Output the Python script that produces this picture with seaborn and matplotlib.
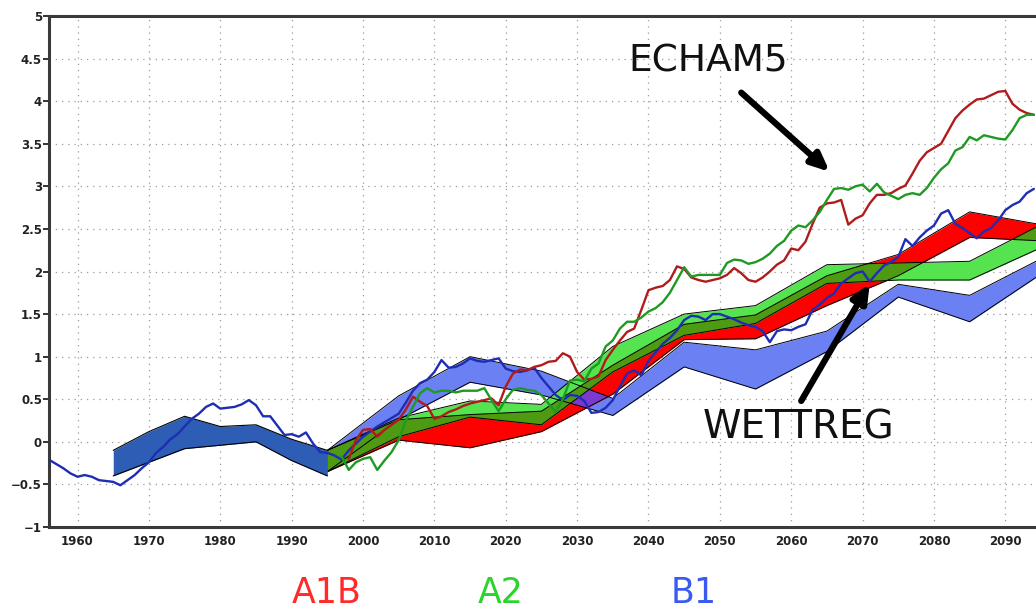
import numpy as np
import pandas as pd
import matplotlib
matplotlib.use("Agg")
import matplotlib.pyplot as plt
from matplotlib.ticker import FuncFormatter
import seaborn as sns

# ---------------------------------------------------------------- data
# Observed-period band (1965-1995)
obs_years = [1965, 1970, 1975, 1980, 1985, 1990, 1995]
obs_upper = [-0.10, 0.12, 0.30, 0.18, 0.20, 0.03, -0.10]
obs_lower = [-0.40, -0.24, -0.08, -0.04, 0.00, -0.22, -0.40]

# Scenario bands (WETTREG), decadal vertices
band_years = [1995, 2005, 2015, 2025, 2035, 2045, 2055, 2065, 2075, 2085, 2095]
a1b_upper = [-0.10, 0.26, 0.32, 0.36, 0.90, 1.38, 1.49, 1.95, 2.20, 2.70, 2.55]
a1b_lower = [-0.35, 0.02, -0.07, 0.12, 0.56, 1.20, 1.21, 1.60, 1.95, 2.40, 2.36]
a2_upper = [-0.10, 0.28, 0.48, 0.44, 1.12, 1.50, 1.60, 2.08, 2.10, 2.12, 2.55]
a2_lower = [-0.35, 0.06, 0.29, 0.20, 0.82, 1.25, 1.39, 1.86, 1.90, 1.90, 2.28]
b1_upper = [-0.10, 0.54, 1.00, 0.83, 0.51, 1.17, 1.08, 1.30, 1.85, 1.72, 2.15]
b1_lower = [-0.35, 0.26, 0.70, 0.55, 0.31, 0.88, 0.62, 1.06, 1.70, 1.41, 1.97]

# ECHAM5 runs, annual values
b1_run_years = list(range(1956, 2095))
b1_run = [-0.21, -0.26, -0.31, -0.37, -0.41, -0.39, -0.41, -0.45, -0.46, -0.47,
          -0.51, -0.45, -0.39, -0.31, -0.24, -0.13, -0.06, 0.03, 0.09, 0.18,
          0.27, 0.33, 0.41, 0.45, 0.39, 0.40, 0.41, 0.44, 0.49, 0.43,
          0.30, 0.30, 0.19, 0.08, 0.09, 0.06, 0.11, -0.02, -0.12, -0.13,
          -0.16, -0.21, -0.10, -0.02, 0.06, 0.12, 0.18, 0.23, 0.28, 0.33,
          0.46, 0.60, 0.69, 0.73, 0.82, 0.96, 0.87, 0.88, 0.92, 0.98,
          0.95, 0.94, 0.96, 0.98, 0.86, 0.83, 0.82, 0.84, 0.87, 0.75,
          0.65, 0.55, 0.49, 0.55, 0.54, 0.48, 0.34, 0.35, 0.40, 0.49,
          0.65, 0.80, 0.84, 0.78, 0.95, 1.05, 1.15, 1.22, 1.31, 1.43,
          1.48, 1.47, 1.43, 1.50, 1.50, 1.47, 1.44, 1.40, 1.37, 1.35,
          1.30, 1.17, 1.30, 1.32, 1.31, 1.35, 1.38, 1.55, 1.61, 1.69,
          1.74, 1.86, 1.92, 1.98, 2.00, 1.88, 1.98, 2.07, 2.11, 2.17,
          2.38, 2.30, 2.40, 2.48, 2.54, 2.68, 2.72, 2.56, 2.51, 2.45,
          2.39, 2.47, 2.51, 2.60, 2.72, 2.78, 2.82, 2.92, 2.97]

a1b_run_years = list(range(1998, 2095))
a1b_run = [-0.20, 0.02, 0.14, 0.15, 0.06, 0.14, 0.20, 0.26, 0.38, 0.53,
           0.47, 0.42, 0.27, 0.30, 0.35, 0.38, 0.42, 0.45, 0.47, 0.49,
           0.51, 0.43, 0.65, 0.80, 0.85, 0.84, 0.88, 0.90, 0.94, 0.95,
           1.04, 1.00, 0.82, 0.73, 0.74, 0.77, 0.96, 1.08, 1.19, 1.29,
           1.33, 1.55, 1.78, 1.81, 1.83, 1.90, 2.06, 2.03, 1.93, 1.90,
           1.88, 1.90, 1.92, 1.96, 2.04, 1.98, 1.90, 1.88, 1.93, 2.00,
           2.08, 2.13, 2.27, 2.25, 2.35, 2.56, 2.75, 2.80, 2.81, 2.84,
           2.55, 2.62, 2.66, 2.80, 2.90, 2.90, 2.92, 2.97, 3.01, 3.15,
           3.30, 3.40, 3.45, 3.50, 3.65, 3.80, 3.89, 3.96, 4.02, 4.03,
           4.07, 4.11, 4.12, 3.97, 3.90, 3.86, 3.84]

a2_run_years = list(range(1997, 2095))
a2_run = [-0.17, -0.33, -0.24, -0.20, -0.18, -0.33, -0.22, -0.12, 0.02, 0.25,
          0.41, 0.57, 0.63, 0.58, 0.60, 0.60, 0.58, 0.60, 0.60, 0.60,
          0.63, 0.49, 0.36, 0.50, 0.61, 0.63, 0.61, 0.60, 0.55, 0.45,
          0.35, 0.50, 0.72, 0.73, 0.71, 0.86, 0.92, 1.12, 1.19, 1.33,
          1.41, 1.41, 1.46, 1.53, 1.57, 1.64, 1.75, 1.90, 2.05, 1.94,
          1.96, 1.96, 1.96, 1.96, 2.10, 2.14, 2.13, 2.09, 2.11, 2.15,
          2.21, 2.30, 2.36, 2.48, 2.54, 2.52, 2.60, 2.70, 2.84, 2.97,
          2.98, 2.96, 3.00, 3.02, 2.94, 3.03, 2.93, 2.89, 2.85, 2.90,
          2.92, 2.90, 2.98, 3.10, 3.20, 3.27, 3.42, 3.46, 3.58, 3.54,
          3.60, 3.58, 3.56, 3.55, 3.66, 3.80, 3.84, 3.84]

x_ticks = list(range(1960, 2091, 10))
y_ticks = [-1, -0.5, 0, 0.5, 1, 1.5, 2, 2.5, 3, 3.5, 4, 4.5, 5]
scenario_labels = ["A1B", "A2", "B1"]

# ---------------------------------------------------------------- style
sns.set_theme(style="white")
plt.rcParams["font.family"] = ["DejaVu Sans"]

C_OBS = "#2d5db4"
C_A1B = "#ff0000"
C_A2 = "#55e34f"
C_B1 = "#6b80f2"
C_A1B_A2 = "#4e9a12"
C_A1B_B1 = "#7a3ad0"
LINE_COLORS = {"A1B": "#b01c1c", "A2": "#1e9a22", "B1": "#1f2db5"}
LABEL_COLORS = {"A1B": "#ff2a2a", "A2": "#2bd42b", "B1": "#3a5af0"}

fig = plt.figure(figsize=(10.36, 6.12), dpi=100)
ax = fig.add_axes([49 / 1036, 1 - 527 / 612, 1 - 49 / 1036, (527 - 16) / 612])

# ---------------------------------------------------------------- bands
bands = {
    "B1": (b1_lower, b1_upper, C_B1),
    "A1B": (a1b_lower, a1b_upper, C_A1B),
    "A2": (a2_lower, a2_upper, C_A2),
}
for name, (lo, hi, col) in bands.items():
    ax.fill_between(band_years, lo, hi, color=col, lw=0, zorder=2)

# overlap areas of two scenario bands
xs = np.linspace(band_years[0], band_years[-1], 2001)


def overlap(b1, b2, col):
    lo = np.maximum(np.interp(xs, band_years, b1[0]), np.interp(xs, band_years, b2[0]))
    hi = np.minimum(np.interp(xs, band_years, b1[1]), np.interp(xs, band_years, b2[1]))
    ax.fill_between(xs, lo, hi, where=hi > lo, color=col, lw=0, zorder=3)


overlap(bands["A1B"], bands["B1"], C_A1B_B1)
overlap(bands["A1B"], bands["A2"], C_A1B_A2)

for name, (lo, hi, col) in bands.items():
    ax.plot(band_years, lo, color="black", lw=0.7, zorder=4)
    ax.plot(band_years, hi, color="black", lw=0.7, zorder=4)

ax.fill_between(obs_years, obs_lower, obs_upper, color=C_OBS, lw=0, zorder=4)
ax.plot(obs_years, obs_lower, color="black", lw=0.8, zorder=4)
ax.plot(obs_years, obs_upper, color="black", lw=0.8, zorder=4)

# ---------------------------------------------------------------- runs
runs = pd.concat([
    pd.DataFrame({"year": b1_run_years, "anomaly": b1_run, "run": "B1"}),
    pd.DataFrame({"year": a1b_run_years, "anomaly": a1b_run, "run": "A1B"}),
    pd.DataFrame({"year": a2_run_years, "anomaly": a2_run, "run": "A2"}),
], ignore_index=True)
sns.lineplot(data=runs, x="year", y="anomaly", hue="run", palette=LINE_COLORS,
             estimator=None, sort=False, legend=False, lw=1.7, ax=ax, zorder=5)

# ---------------------------------------------------------------- annotations
ax.text(2048.3, 4.46, "ECHAM5", fontsize=27, ha="center", va="center",
        color="#111111", zorder=7)
ax.annotate("", xy=(2065.4, 3.17), xytext=(2053.0, 4.10), zorder=7,
            arrowprops=dict(arrowstyle="-|>,head_length=0.9,head_width=0.4",
                            lw=4.5, color="black", shrinkA=0, shrinkB=0))
ax.text(2061.0, 0.17, "WETTREG", fontsize=28, ha="center", va="center",
        color="#111111", zorder=7)
ax.annotate("", xy=(2071.0, 1.86), xytext=(2061.4, 0.48), zorder=7,
            arrowprops=dict(arrowstyle="-|>,head_length=0.9,head_width=0.4",
                            lw=4.5, color="black", shrinkA=0, shrinkB=0))

for label, xc in zip(scenario_labels, [327, 501, 694]):
    fig.text(xc / 1036, 1 - 610 / 612, label, fontsize=25, ha="center",
             va="bottom", color=LABEL_COLORS[label])

# ---------------------------------------------------------------- axes
ax.set_xlim(1956, 2094.3)
ax.set_ylim(-1, 5)
ax.set_xticks(x_ticks)
ax.set_yticks(y_ticks)
ax.yaxis.set_major_formatter(FuncFormatter(lambda v, p: ("%g" % v).replace("-", "\u2212")))
ax.set_xlabel("")
ax.set_ylabel("")
ax.grid(True, color="#9a9a9a", lw=0.9, ls=(0, (1, 4)))
ax.set_axisbelow(True)
for lbl in ax.get_xticklabels() + ax.get_yticklabels():
    lbl.set_fontweight("bold")
    lbl.set_fontsize(8.5)
    lbl.set_color("#222222")
ax.tick_params(axis="y", direction="out", length=4, width=1.4, pad=1, left=True,
               color="#333333")
ax.tick_params(axis="x", direction="out", length=0, pad=6)
for side in ["left", "top", "bottom"]:
    ax.spines[side].set_color("#3a3a3a")
    ax.spines[side].set_linewidth(2.2)
ax.spines["right"].set_visible(False)

fig.savefig("out.png", dpi=100, facecolor="white")
